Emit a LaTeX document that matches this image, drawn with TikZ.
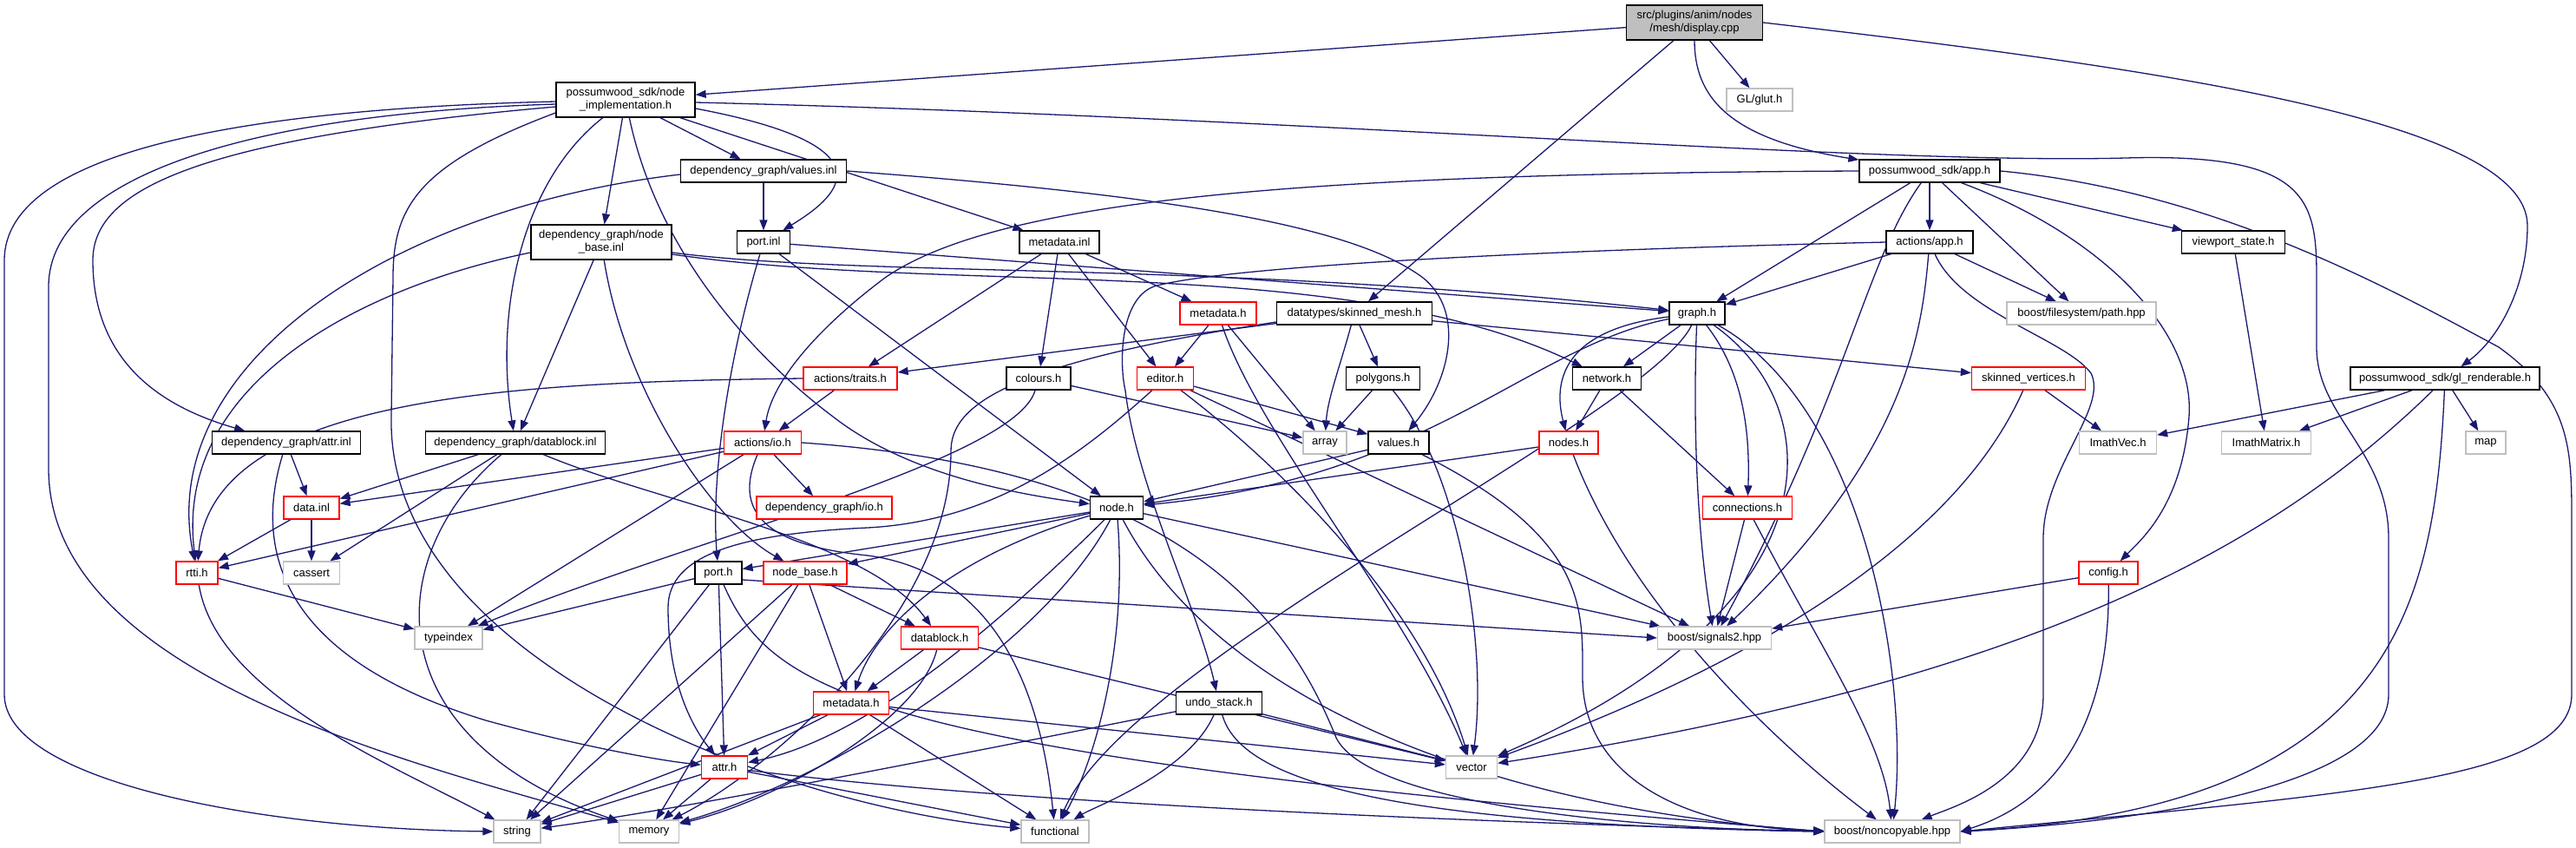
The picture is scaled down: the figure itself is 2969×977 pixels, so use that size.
\documentclass[tikz,border=0pt]{standalone}
\usepackage{fontspec}
\setmainfont{Liberation Sans}
\usetikzlibrary{arrows.meta}
\definecolor{edgec}{HTML}{191970}
\definecolor{gborder}{HTML}{BFBFBF}
\definecolor{dispfill}{HTML}{BFBFBF}
\definecolor{rborder}{HTML}{FF0000}
\newcommand\nodefont{\fontsize{13}{15}\selectfont}
\newcommand\mknode[6]{\node[#1, minimum width=#2pt, minimum height=#3pt] (#4) at (#5) {#6};}
\pgfdeclarelayer{bg}
\pgfsetlayers{bg,main}
\tikzset{
  nd/.style={draw=black, fill=white, line width=1.3pt, inner sep=0pt, font=\nodefont, align=center},
  rd/.style={nd, draw=rborder},
  gd/.style={nd, draw=gborder},
  e/.style={draw=edgec, line width=1.3pt, -{Triangle[length=12pt,width=9pt]}}
}
\begin{document}
\begin{tikzpicture}[x=1pt,y=-1pt]
\useasboundingbox (0,0) rectangle (2969,977);
% nodes
\mknode{nd,fill=dispfill}{157}{40}{disp}{1953,26}{src/plugins/anim/nodes\\/mesh/display.cpp}
\mknode{nd}{160}{40}{nimpl}{721,115}{possumwood\_sdk/node\\\_implementation.h}
\mknode{gd}{76}{26}{glut}{2028,115}{GL/glut.h}
\mknode{nd}{191}{26}{valinl}{880,197}{dependency\_graph/values.inl}
\mknode{nd}{162}{26}{app}{2224,197}{possumwood\_sdk/app.h}
\mknode{nd}{162}{40}{nbinl}{693,279}{dependency\_graph/node\\\_base.inl}
\mknode{nd}{61}{26}{portinl}{880,279}{port.inl}
\mknode{nd}{92}{26}{mdinl}{1221,279}{metadata.inl}
\mknode{nd}{100}{26}{actapp}{2224,279}{actions/app.h}
\mknode{nd}{119}{26}{vps}{2574,279}{viewport\_state.h}
\mknode{rd}{88}{26}{mdha}{1404,361}{metadata.h}
\mknode{nd}{179}{26}{skm}{1561,361}{datatypes/skinned\_mesh.h}
\mknode{nd}{64}{26}{graph}{1956,361}{graph.h}
\mknode{gd}{172}{26}{fspath}{2399,361}{boost/filesystem/path.hpp}
\mknode{rd}{108}{26}{traits}{980,436}{actions/traits.h}
\mknode{nd}{74}{26}{colours}{1197,436}{colours.h}
\mknode{rd}{65}{26}{editor}{1343,436}{editor.h}
\mknode{nd}{85}{26}{polygons}{1594,436}{polygons.h}
\mknode{nd}{79}{26}{network}{1852,436}{network.h}
\mknode{rd}{131}{26}{skv}{2338,436}{skinned\_vertices.h}
\mknode{nd}{218}{26}{glr}{2818,436}{possumwood\_sdk/gl\_renderable.h}
\mknode{nd}{171}{26}{attrinl}{330,510}{dependency\_graph/attr.inl}
\mknode{nd}{207}{26}{dbinl}{594,510}{dependency\_graph/datablock.inl}
\mknode{rd}{89}{26}{actio}{879,510}{actions/io.h}
\mknode{gd}{50}{26}{array}{1527,510}{array}
\mknode{nd}{70}{26}{valh}{1612,510}{values.h}
\mknode{rd}{68}{26}{nodesh}{1808,510}{nodes.h}
\mknode{gd}{89}{26}{imvec}{2441,510}{ImathVec.h}
\mknode{gd}{103}{26}{immat}{2612,510}{ImathMatrix.h}
\mknode{gd}{46}{26}{mapn}{2865,510}{map}
\mknode{rd}{64}{26}{datainl}{359,585}{data.inl}
\mknode{rd}{156}{26}{dgio}{950,585}{dependency\_graph/io.h}
\mknode{nd}{61}{26}{nodeh}{1287,585}{node.h}
\mknode{rd}{103}{26}{conn}{2014,585}{connections.h}
\mknode{rd}{48}{26}{rtti}{227,660}{rtti.h}
\mknode{gd}{65}{26}{cassert}{359,660}{cassert}
\mknode{nd}{54}{26}{porth}{828,660}{port.h}
\mknode{rd}{96}{26}{nbh}{928,660}{node\_base.h}
\mknode{rd}{68}{26}{config}{2430,660}{config.h}
\mknode{gd}{78}{26}{typeindex}{517,735}{typeindex}
\mknode{rd}{89}{26}{dbh}{1083,735}{datablock.h}
\mknode{gd}{131}{26}{sig}{1976,735}{boost/signals2.hpp}
\mknode{rd}{87}{26}{mdhb}{981,810}{metadata.h}
\mknode{nd}{99}{26}{undo}{1405,810}{undo\_stack.h}
\mknode{rd}{53}{26}{attrh}{835,884}{attr.h}
\mknode{gd}{59}{26}{vectorn}{1696,884}{vector}
\mknode{gd}{54}{26}{stringn}{596,958}{string}
\mknode{gd}{69}{26}{memory}{748,958}{memory}
\mknode{gd}{78}{26}{functional}{1216,958}{functional}
\mknode{gd}{156}{26}{noncopy}{2181,958}{boost/noncopyable.hpp}
\begin{pgfonlayer}{bg}
\fill[white] (0,0) rectangle (2969,977);
% display.cpp
\draw[e] (disp) -- (nimpl);
\draw[e] (disp) -- (skm);
\draw[e] (disp) -- (glut);
\draw[e] (disp) .. controls (1953,110) and (1990,160) .. (app);
\draw[e] (disp.east) .. controls (2500,80) and (2913,140) .. (2913,260) .. controls (2913,330) and (2880,390) .. (glr);
% node_implementation.h
\draw[e] ([yshift=-2pt]nimpl.west) .. controls (300,125) and (5,170) .. (5,300) -- (5,800) .. controls (5,900) and (300,955) .. (stringn.west);
\draw[e] ([yshift=-5pt]nimpl.west) .. controls (300,130) and (56,200) .. (56,330) -- (56,540) .. controls (56,780) and (480,880) .. (memory);
\draw[e] ([yshift=-8pt]nimpl.west) .. controls (220,160) and (107,220) .. (107,300) .. controls (107,420) and (190,470) .. (attrinl);
\draw[e] ([yshift=-15pt]nimpl.west) .. controls (480,190) and (453,240) .. (453,320) -- (451,480) .. controls (445,760) and (900,930) .. (functional);
\draw[e] (nimpl) .. controls (600,210) and (570,360) .. (dbinl);
\draw[e] (nimpl) -- (nbinl);
\draw[e] (nimpl) -- (valinl);
\draw[e] ([yshift=-10pt]nimpl.east) .. controls (1040,170) and (960,230) .. (portinl);
\draw[e] (nimpl) -- (mdinl);
\draw[e] (nimpl) .. controls (760,300) and (880,420) .. (960,480) .. controls (1050,550) and (1180,570) .. (nodeh);
\draw[e] ([yshift=-3pt]nimpl.east) .. controls (1500,135) and (2150,190) .. (2450,182) .. controls (2660,176) and (2670,230) .. (2670,320) -- (2670,400) .. controls (2670,480) and (2753,520) .. (2753,620) -- (2753,800) .. controls (2753,900) and (2500,945) .. (noncopy.east);
% node_base.inl
\draw[e] ([yshift=-12pt]nbinl.west) .. controls (420,330) and (200,440) .. (rtti);
\draw[e] (nbinl) -- (dbinl);
\draw[e] (nbinl) .. controls (720,450) and (820,600) .. (nbh);
\draw[e] ([yshift=-12pt]nbinl.east) .. controls (1000,320) and (1400,300) .. (graph);
\draw[e] ([yshift=-14pt]nbinl.east) .. controls (1100,340) and (1550,290) .. (network);
% values.inl
\draw[e] ([yshift=-4pt]valinl.west) .. controls (450,240) and (180,420) .. (rtti);
\draw[e] (valinl) -- (portinl);
\draw[e] (valinl.east) .. controls (1350,225) and (1560,260) .. (1640,320) .. controls (1690,360) and (1670,440) .. (valh);
% port.inl
\draw[e] (portinl) .. controls (835,430) and (820,560) .. (porth);
\draw[e] (portinl) -- (nodeh);
\draw[e] (portinl) -- (graph);
% metadata.inl
\draw[e] (mdinl) -- (traits);
\draw[e] (mdinl) -- (colours);
\draw[e] (mdinl) -- (editor);
\draw[e] (mdinl) -- (mdha);
% metadata.h (sdk)
\draw[e] (mdha) -- (editor);
\draw[e] (mdha) -- (array);
\draw[e] (mdha) .. controls (1450,500) and (1620,700) .. (vectorn);
% skinned_mesh.h
\draw[e] (skm) -- (traits);
\draw[e] (skm) .. controls (1545,420) and (1530,460) .. (array);
\draw[e] (skm) -- (polygons);
\draw[e] (skm) -- (skv);
\draw[e] ([yshift=-10pt]skm.west) .. controls (1150,420) and (1096,470) .. (1096,520) .. controls (1096,700) and (900,880) .. (memory);
% traits
\draw[e] (traits) -- (actio);
\draw[e] (traits.west) .. controls (600,440) and (245,455) .. (rtti);
% colours
\draw[e] (colours) -- (array);
\draw[e] (colours) .. controls (1170,530) and (800,620) .. (typeindex);
% editor
\draw[e] (editor) -- (valh);
\draw[e] (editor) .. controls (1250,520) and (1150,600) .. (1000,608) .. controls (850,615) and (770,640) .. (770,700) .. controls (770,790) and (800,840) .. (attrh);
\draw[e] (editor) .. controls (1480,540) and (1640,700) .. (vectorn);
\draw[e] (editor) -- (sig);
% polygons
\draw[e] (polygons) -- (array);
\draw[e] (polygons) .. controls (1680,540) and (1715,740) .. (vectorn);
% network
\draw[e] (network) -- (nodesh);
\draw[e] (network) -- (conn);
% graph
\draw[e] (graph) .. controls (1800,380) and (1790,440) .. (nodesh);
\draw[e] (graph) -- (network);
\draw[e] (graph) .. controls (1760,400) and (1650,550) .. (nodeh);
\draw[e] (graph) .. controls (1900,480) and (1300,760) .. (functional);
\draw[e] (graph) .. controls (1950,520) and (1960,640) .. (sig);
\draw[e] (graph) .. controls (2010,430) and (2017,500) .. (conn);
\draw[e] (graph) .. controls (2110,470) and (2120,700) .. (vectorn);
\draw[e] (graph) .. controls (2150,470) and (2200,780) .. (noncopy);
% nodes.h
\draw[e] (nodesh) -- (nodeh);
\draw[e] (nodesh) .. controls (1880,700) and (2050,860) .. (noncopy);
% connections.h
\draw[e] (conn) -- (sig);
\draw[e] (conn) .. controls (2100,750) and (2170,850) .. (noncopy);
% values.h
\draw[e] (valh) -- (nodeh);
\draw[e] (valh) .. controls (1830,620) and (1824,700) .. (1824,780) .. controls (1824,900) and (1950,955) .. (noncopy);
% actions/app.h
\draw[e] (actapp) -- (graph);
\draw[e] (actapp) -- (fspath);
\draw[e] (actapp) .. controls (2260,360) and (2380,390) .. (2410,430) .. controls (2430,470) and (2355,540) .. (2355,620) -- (2355,800) .. controls (2355,900) and (2250,930) .. (noncopy);
\draw[e] (actapp.west) .. controls (1700,290) and (1400,310) .. (1330,330) .. controls (1290,345) and (1290,420) .. (1297,450) .. controls (1310,560) and (1380,700) .. (undo);
\draw[e] (actapp) .. controls (2215,380) and (2200,520) .. (sig);
% app.h
\draw[e] (app.west) .. controls (1500,200) and (1150,230) .. (1020,320) .. controls (940,380) and (890,440) .. (actio);
\draw[e] (app) -- (actapp);
\draw[e] (app) -- (graph);
\draw[e] (app) -- (fspath);
\draw[e] (app) -- (vps);
\draw[e] (app) .. controls (2420,270) and (2530,380) .. (2523,480) .. controls (2515,580) and (2470,620) .. (config);
\draw[e] (app.east) .. controls (2550,220) and (2750,330) .. (2880,400) .. controls (2964,460) and (2964,520) .. (2964,600) -- (2964,800) .. controls (2964,900) and (2700,915) .. (noncopy.east);
\draw[e] (app) .. controls (2150,300) and (2130,450) .. (sig);
% viewport, skinned_vertices, gl_renderable
\draw[e] (vps) -- (immat);
\draw[e] (skv) -- (imvec);
\draw[e] (skv) .. controls (2300,520) and (2200,700) .. (vectorn);
\draw[e] (glr) -- (imvec);
\draw[e] (glr) -- (immat);
\draw[e] (glr) -- (mapn);
\draw[e] (glr) .. controls (2600,650) and (2300,790) .. (vectorn);
\draw[e] (glr) .. controls (2806,700) and (2760,930) .. (noncopy.east);
% config
\draw[e] (config) -- (sig);
\draw[e] (config) .. controls (2432,820) and (2380,920) .. (noncopy.east);
% actions/io.h
\draw[e] (actio) -- (dgio);
\draw[e] (actio) -- (datainl);
\draw[e] (actio) -- (rtti);
\draw[e] (actio) -- (typeindex);
\draw[e] (actio.east) .. controls (1350,540) and (1480,700) .. (1540,850) .. controls (1580,930) and (1900,955) .. (noncopy.west);
\draw[e] (actio) .. controls (840,600) and (900,630) .. (1000,640) .. controls (1150,660) and (1200,800) .. (functional);
% data.inl, attr.inl, datablock.inl
\draw[e] (datainl) -- (rtti);
\draw[e] (datainl) -- (cassert);
\draw[e] (attrinl) -- (datainl);
\draw[e] (attrinl) .. controls (290,640) and (330,760) .. (560,830) .. controls (650,855) and (750,875) .. (attrh);
\draw[e] (dbinl) -- (datainl);
\draw[e] (dbinl) -- (cassert);
\draw[e] (dbinl) .. controls (440,640) and (430,850) .. (memory);
\draw[e] (dbinl) .. controls (760,580) and (1000,620) .. (dbh);
% rtti, port.h
\draw[e] (rtti) -- (typeindex);
\draw[e] (rtti) .. controls (250,800) and (450,880) .. (stringn);
\draw[e] (porth) -- (typeindex);
\draw[e] (porth) -- (stringn);
\draw[e] (porth) -- (attrh);
\draw[e] (porth) .. controls (890,800) and (1000,870) .. (noncopy.west);
\draw[e] ([yshift=-8pt]porth.east) -- (sig.west);
% node_base.h, datablock.h, metadata.h (dg)
\draw[e] (nbh) -- (stringn);
\draw[e] (nbh) -- (memory);
\draw[e] (nbh) -- (mdhb);
\draw[e] (nbh) -- (dbh);
\draw[e] (dbh) -- (mdhb);
\draw[e] (dbh) .. controls (1060,830) and (900,920) .. (memory);
\draw[e] (dbh) -- (vectorn);
\draw[e] (mdhb) -- (stringn);
\draw[e] (mdhb) -- (attrh);
\draw[e] (mdhb) -- (vectorn);
\draw[e] (mdhb) -- (functional);
% node.h
\draw[e] (nodeh) -- (porth);
\draw[e] (nodeh) -- (nbh);
\draw[e] (nodeh) .. controls (1100,640) and (1010,720) .. (mdhb);
\draw[e] (nodeh) .. controls (1150,720) and (1000,850) .. (attrh);
\draw[e] (nodeh) .. controls (1200,750) and (950,900) .. (memory);
\draw[e] (nodeh) .. controls (1300,750) and (1260,880) .. (functional);
\draw[e] (nodeh) -- (sig);
\draw[e] (nodeh) .. controls (1400,800) and (1700,930) .. (noncopy.west);
% undo_stack.h
\draw[e] (undo) .. controls (1100,870) and (800,930) .. (stringn);
\draw[e] (undo) .. controls (1370,890) and (1260,930) .. (functional);
\draw[e] (undo) -- (vectorn);
\draw[e] (undo) .. controls (1430,900) and (1600,950) .. (noncopy.west);
% attr.h
\draw[e] (attrh) -- (stringn);
\draw[e] (attrh) -- (memory);
\draw[e] (attrh) -- (functional);
\draw[e] (attrh) .. controls (1200,930) and (1800,950) .. (noncopy.west);
\end{pgfonlayer}
\end{tikzpicture}
\end{document}
